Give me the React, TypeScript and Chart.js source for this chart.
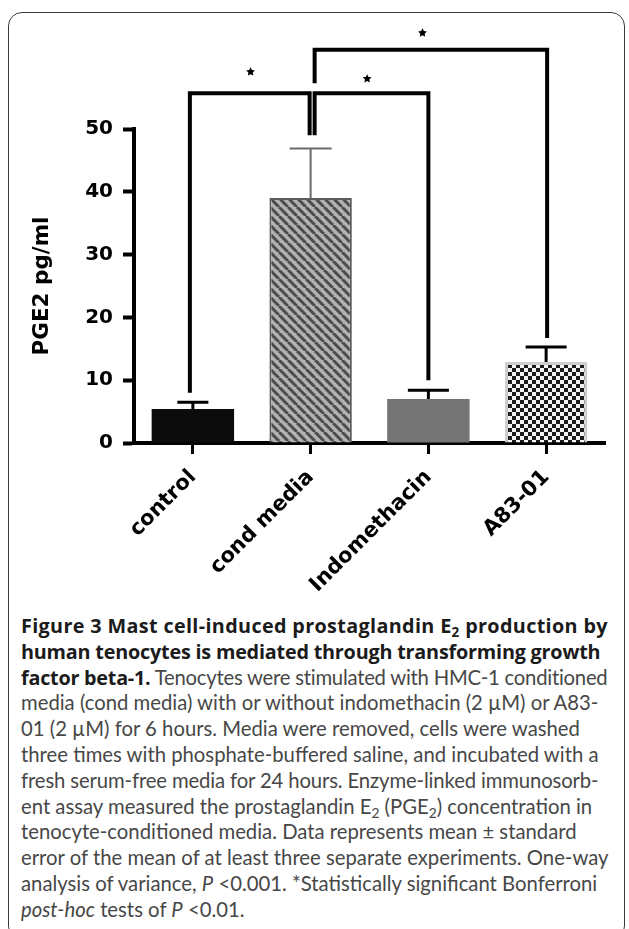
import React, { useEffect, useRef } from "react";
import { Chart, registerables } from "chart.js";

Chart.register(...registerables);

// ---- data ----
const categories = ["control", "cond media", "Indomethacin", "A83-01"];
const means = [5.4, 39.0, 7.0, 12.9];
const sems = [1.1, 7.9, 1.4, 2.4];
const yTickValues = [0, 10, 20, 30, 40, 50];
const yTitle = "PGE2 pg/ml";

// significance brackets (category index from/to, lower ends of legs, level of the bar)
const bracketFrom = [0, 1, 1];
const bracketTo = [1, 2, 3];
const bracketFromBottom = [8.0, 49.0, 57.3];
const bracketToBottom = [49.0, 10.0, 16.7];
const bracketLevel = [55.7, 55.7, 62.6];
const starPosX = [0.49, 1.48, 1.95];
const starPosY = [59.1, 58.0, 65.3];

// ---- styles ----
const errColors = ["#000", "#6a6a6a", "#000", "#000"];
const errWidths = [3, 2, 3, 3];
const capWidths = [31, 42, 41, 41];
const bracketFromShift = [-3, 4, 4];
const bracketToShift = [-1, 0, 1];

function makeHatch(): CanvasPattern | string {
  const s = 9;
  const c = document.createElement("canvas");
  c.width = s;
  c.height = s;
  const g = c.getContext("2d");
  if (!g) return "#777";
  g.fillStyle = "#b2b2b2";
  g.fillRect(0, 0, s, s);
  g.strokeStyle = "#4c4c4c";
  g.lineWidth = 3.0;
  for (const o of [-s, 0, s]) {
    g.beginPath();
    g.moveTo(o, 0);
    g.lineTo(o + s, s);
    g.stroke();
  }
  return g.createPattern(c, "repeat") || "#777";
}

function makeChecker(): CanvasPattern | string {
  const s = 8;
  const c = document.createElement("canvas");
  c.width = s;
  c.height = s;
  const g = c.getContext("2d");
  if (!g) return "#777";
  g.fillStyle = "#f4f4f4";
  g.fillRect(0, 0, s, s);
  g.fillStyle = "#1c1c1c";
  g.fillRect(0, 0, 4, 4);
  g.fillRect(4, 4, 4, 4);
  return g.createPattern(c, "repeat") || "#777";
}

function drawStar(ctx: CanvasRenderingContext2D, cx: number, cy: number, r: number) {
  ctx.beginPath();
  for (let k = 0; k < 10; k++) {
    const rr = k % 2 ? r * 0.5 : r;
    const a = -Math.PI / 2 + (k * Math.PI) / 5;
    ctx.lineTo(cx + rr * Math.cos(a), cy + rr * Math.sin(a));
  }
  ctx.closePath();
  ctx.fill();
}

const overlayPlugin = {
  id: "overlay",
  afterDatasetsDraw(chart: any) {
    const ctx: CanvasRenderingContext2D = chart.ctx;
    const xs = chart.scales.x;
    const ys = chart.scales.y;
    ctx.save();
    // error bars (upper half)
    means.forEach((m, i) => {
      const cx = xs.getPixelForValue(i);
      const base = ys.getPixelForValue(m);
      const top = ys.getPixelForValue(m + sems[i]);
      ctx.strokeStyle = errColors[i];
      ctx.lineWidth = errWidths[i];
      ctx.lineCap = "butt";
      ctx.beginPath();
      ctx.moveTo(cx, base);
      ctx.lineTo(cx, top);
      ctx.moveTo(cx - capWidths[i] / 2, top);
      ctx.lineTo(cx + capWidths[i] / 2, top);
      ctx.stroke();
    });
    // brackets
    ctx.strokeStyle = "#000";
    ctx.lineWidth = 4;
    ctx.lineJoin = "miter";
    for (let b = 0; b < bracketFrom.length; b++) {
      const x1 = xs.getPixelForValue(bracketFrom[b]) + bracketFromShift[b];
      const x2 = xs.getPixelForValue(bracketTo[b]) + bracketToShift[b];
      const yl = ys.getPixelForValue(bracketLevel[b]);
      ctx.beginPath();
      ctx.moveTo(x1, ys.getPixelForValue(bracketFromBottom[b]));
      ctx.lineTo(x1, yl);
      ctx.lineTo(x2, yl);
      ctx.lineTo(x2, ys.getPixelForValue(bracketToBottom[b]));
      ctx.stroke();
    }
    // stars
    ctx.fillStyle = "#000";
    for (let s = 0; s < starPosX.length; s++) {
      drawStar(ctx, xs.getPixelForValue(starPosX[s]), ys.getPixelForValue(starPosY[s]), 4.6);
    }
    ctx.restore();
  },
};

const FONT = "'DejaVu Sans', sans-serif";

function ChartCanvas() {
  const ref = useRef<HTMLCanvasElement>(null);
  useEffect(() => {
    if (!ref.current) return;
    const hatch = makeHatch();
    const checker = makeChecker();
    const chart = new Chart(ref.current, {
      type: "bar",
      data: {
        labels: categories,
        datasets: [
          {
            data: means,
            backgroundColor: ["#0c0c0c", hatch as any, "#747474", checker as any],
            borderColor: ["#0c0c0c", "#5c5c5c", "#747474", "#cdcdcd"],
            borderWidth: [0, 2, 0, 3],
            barPercentage: 0.7,
            categoryPercentage: 1,
          },
        ],
      },
      options: {
        animation: false,
        responsive: false,
        maintainAspectRatio: false,
        layout: { padding: { top: 129, right: 24, left: 0, bottom: 0 } },
        plugins: { legend: { display: false }, tooltip: { enabled: false } },
        scales: {
          x: {
            offset: true,
            grid: {
              display: true,
              drawOnChartArea: false,
              drawTicks: true,
              tickLength: 11,
              tickWidth: 3,
              tickColor: "#000",
              offset: false,
            },
            border: { display: true, color: "#000", width: 4 },
            ticks: {
              color: "#000",
              font: { family: FONT, weight: "bold", size: 21 },
              minRotation: 45,
              maxRotation: 45,
              padding: 11,
            },
            afterFit: (s: any) => {
              s.height = 157;
            },
          },
          y: {
            min: 0,
            max: 50,
            afterBuildTicks: (s: any) => {
              s.ticks = yTickValues.map((v) => ({ value: v }));
            },
            grid: {
              drawOnChartArea: false,
              drawTicks: true,
              tickLength: 11,
              tickWidth: 4,
              tickColor: "#000",
            },
            border: { display: true, color: "#000", width: 4 },
            ticks: {
              color: "#000",
              font: { family: FONT, weight: "bold", size: 20 },
              padding: 10,
            },
            title: {
              display: true,
              text: yTitle,
              color: "#000",
              font: { family: FONT, weight: "bold", size: 21.5 },
              padding: { top: 30, bottom: 0 },
            },
            afterFit: (s: any) => {
              s.width = 134;
            },
          },
        },
      },
      plugins: [overlayPlugin],
    });
    return () => chart.destroy();
  }, []);
  return (
    <canvas
      ref={ref}
      width={629}
      height={600}
      style={{ position: "absolute", left: 0, top: 0, width: 629, height: 600 }}
    />
  );
}

const sub = (t: string) => (
  <span style={{ fontSize: "0.68em", position: "relative", top: "0.3em" }}>{t}</span>
);

export default function App() {
  const LH = 25.8;
  const lineStyle: React.CSSProperties = { whiteSpace: "nowrap", height: LH, lineHeight: `${LH}px` };
  const bold: React.CSSProperties = {
    fontWeight: 700,
    color: "#1b1b1b",
    fontFamily: "'Open Sans', sans-serif",
    fontSize: 19.8,
  };
  return (
    <div
      style={{
        position: "absolute",
        left: 0,
        top: 0,
        width: 629,
        height: 929,
        overflow: "hidden",
        background: "#fff",
      }}
    >
      <div
        style={{
          position: "absolute",
          left: 8,
          top: 12,
          width: 617,
          height: 928,
          border: "1.5px solid #3a3a3a",
          borderRadius: 14,
          boxSizing: "border-box",
        }}
      />
      <ChartCanvas />
      <div
        style={{
          position: "absolute",
          left: 21,
          top: 613,
          fontFamily: "Lato, sans-serif",
          fontSize: 20.3,
          color: "#474747",
        }}
      >
        <div style={{ ...lineStyle, ...bold, letterSpacing: 0.35 }}>
          Figure 3 Mast cell-induced prostaglandin E{sub("2")} production by
        </div>
        <div style={{ ...lineStyle, ...bold, letterSpacing: -0.2 }}>
          human tenocytes is mediated through transforming growth
        </div>
        <div style={{ ...lineStyle, letterSpacing: -0.24 }}>
          <span style={bold}>factor beta-1.</span> Tenocytes were stimulated with HMC-1 conditioned
        </div>
        <div style={lineStyle}>media (cond media) with or without indomethacin (2 µM) or A83-</div>
        <div style={lineStyle}>01 (2 µM) for 6 hours. Media were removed, cells were washed</div>
        <div style={lineStyle}>three times with phosphate-buffered saline, and incubated with a</div>
        <div style={{ ...lineStyle, letterSpacing: -0.13 }}>
          fresh serum-free media for 24 hours. Enzyme-linked immunosorb-
        </div>
        <div style={lineStyle}>
          ent assay measured the prostaglandin E{sub("2")} (PGE{sub("2")}) concentration in
        </div>
        <div style={lineStyle}>tenocyte-conditioned media. Data represents mean ± standard</div>
        <div style={lineStyle}>error of the mean of at least three separate experiments. One-way</div>
        <div style={lineStyle}>
          analysis of variance, <i>P</i> &lt;0.001. *Statistically significant Bonferroni
        </div>
        <div style={lineStyle}>
          <i>post-hoc</i> tests of <i>P</i> &lt;0.01.
        </div>
      </div>
    </div>
  );
}
